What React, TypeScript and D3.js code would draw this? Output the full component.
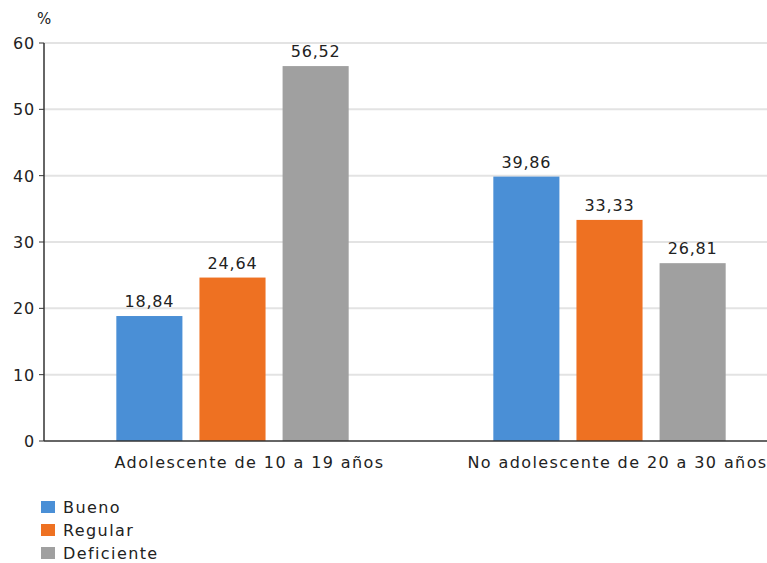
import React from "react";
import * as d3 from "d3";

const categories = ["Adolescente de 10 a 19 años", "No adolescente de 20 a 30 años"];
const seriesNames = ["Bueno", "Regular", "Deficiente"];
const bueno = [18.84, 39.86];
const regular = [24.64, 33.33];
const deficiente = [56.52, 26.81];
const yTicks = [0, 10, 20, 30, 40, 50, 60];
const colors = ["#4a8fd6", "#ee7122", "#a0a0a0"];

const W = 767;
const H = 563;
const margin = { left: 44, top: 43, bottom: 441 };
const font = "Verdana, 'DejaVu Sans', sans-serif";
const ink = "#222";
// category labels sit slightly right of their band centre
const labelShift = [17, 8];

export default function App() {
  const values = [bueno, regular, deficiente];
  const x0 = d3.scaleBand<string>().domain(categories).range([margin.left, margin.left + 754]);
  const x1 = d3.scaleBand<string>().domain(seriesNames).range([0, x0.bandwidth()]).paddingInner(0.205).paddingOuter(0.87);
  const y = d3.scaleLinear().domain([0, 60]).range([margin.bottom, margin.top]);
  const fmt = (v: number) => d3.format(".2f")(v).replace(".", ",");

  return (
    <svg width={W} height={H} style={{ position: "absolute", left: 0, top: 0 }} fontFamily={font}>
      <rect width={W} height={H} fill="#fff" />
      {yTicks.map((t) => (
        <g key={t}>
          {t > 0 && <line x1={margin.left} x2={W} y1={y(t)} y2={y(t)} stroke="#e3e3e3" strokeWidth={2} />}
          <line x1={margin.left - 5} x2={margin.left} y1={y(t)} y2={y(t)} stroke="#333" />
          <text x={35} y={y(t)} dy="0.38em" textAnchor="end" fontSize={16} letterSpacing={0.8} fill={ink}>{t}</text>
        </g>
      ))}
      <text x={37} y={24} fontSize={15} fill={ink}>%</text>
      {categories.map((c, ci) => (
        <g key={c}>
          {seriesNames.map((s, si) => {
            const v = values[si][ci];
            const bx = (x0(c) ?? 0) + (x1(s) ?? 0);
            return (
              <g key={s}>
                <rect x={bx} y={y(v)} width={x1.bandwidth()} height={y(0) - y(v)} fill={colors[si]} />
                <text x={bx + x1.bandwidth() / 2} y={y(v) - 9} textAnchor="middle" fontSize={16} letterSpacing={0.8} fill={ink}>{fmt(v)}</text>
              </g>
            );
          })}
          <text x={(x0(c) ?? 0) + x0.bandwidth() / 2 + labelShift[ci]} y={468} textAnchor="middle" fontSize={16} letterSpacing={1.4} fill={ink}>{c}</text>
        </g>
      ))}
      <line x1={margin.left} x2={margin.left} y1={margin.top} y2={margin.bottom} stroke="#333" strokeWidth={1.5} />
      <line x1={margin.left} x2={W} y1={margin.bottom} y2={margin.bottom} stroke="#333" strokeWidth={1.5} />
      {seriesNames.map((s, i) => (
        <g key={s} transform={`translate(41, ${501 + i * 23})`}>
          <rect width={14} height={12} fill={colors[i]} />
          <text x={22} y={6} dy="0.38em" fontSize={16} letterSpacing={1.4} fill={ink}>{s}</text>
        </g>
      ))}
    </svg>
  );
}
